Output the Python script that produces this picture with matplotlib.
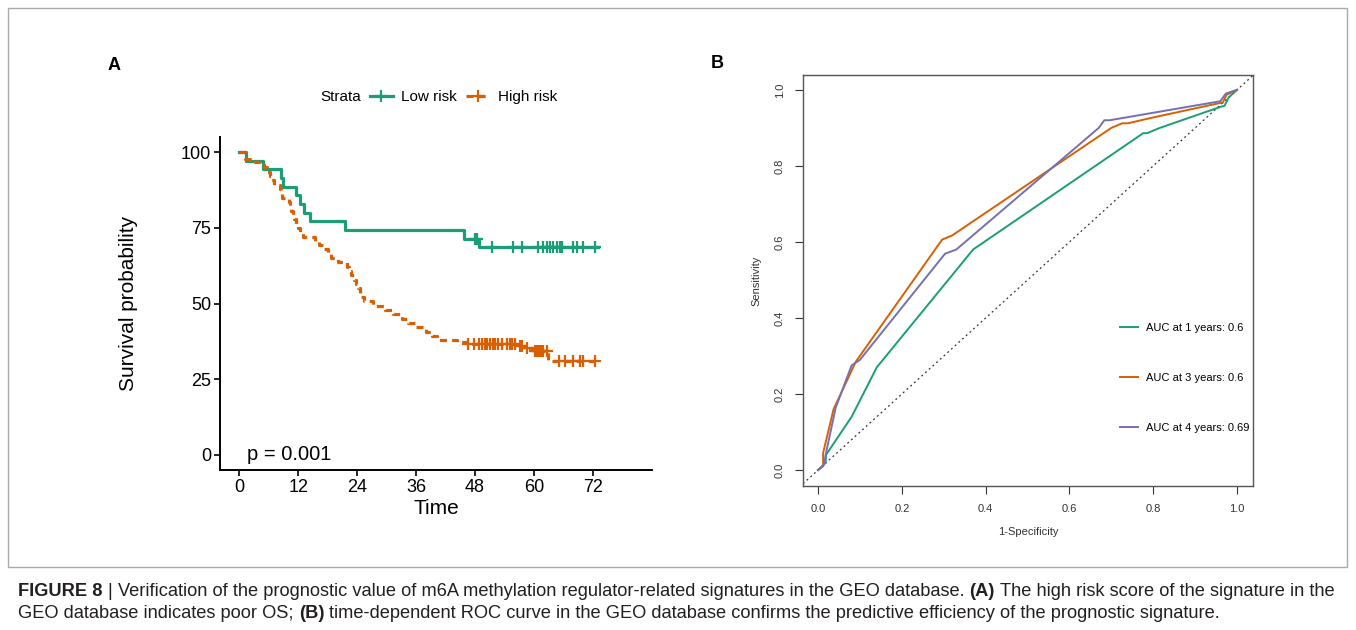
import numpy as np
import matplotlib
matplotlib.use("Agg")
import matplotlib.pyplot as plt
from matplotlib.lines import Line2D
from matplotlib.patches import Rectangle

plt.rcParams['font.family'] = ['Liberation Sans', 'DejaVu Sans']

GREEN = "#1b9e77"
ORANGE = "#d95f02"
PURPLE = "#7570b3"

# ---- panel A: Kaplan-Meier data (months, percent) ----
low_times = [0, 1.3, 4.9, 8.6, 8.9, 11.5, 12.3, 13.1, 14.5, 21.5, 45.7, 48.8]
low_surv = [100, 97.1, 94.3, 91.4, 88.6, 85.7, 82.9, 80.0, 77.1, 74.3, 71.3, 68.6]
low_end = 73.0
low_censor = [48.0, 48.3, 51.4, 55.8, 57.5, 60.9, 61.9, 62.6, 63.2, 63.9,
              64.6, 65.3, 65.6, 68.0, 68.7, 70.0, 72.4]

high_times = [0, 1.2, 3.3, 5.0, 5.7, 6.2, 6.5, 7.0, 8.3, 8.5, 8.8, 10.2,
              10.4, 10.6, 10.9, 11.2, 11.6, 12.0, 12.4, 12.9, 15.5, 16.2,
              17.0, 18.0, 18.7, 20.2, 21.9, 22.3, 22.8, 23.3, 23.8, 24.2,
              24.5, 24.8, 25.3, 27.3, 29.7, 31.4, 33.1, 34.3, 35.7, 38.0,
              39.2, 40.3, 44.3, 46.3, 56.8, 58.5, 60.0, 62.9]
high_surv = [100, 97.7, 96.6, 95.0, 93.6, 92.1, 90.7, 89.3, 87.9, 86.4,
             85.0, 83.6, 82.1, 80.7, 79.3, 77.9, 76.4, 75.0, 73.6, 72.1,
             70.7, 69.3, 67.9, 66.4, 65.0, 63.6, 62.1, 60.7, 59.3, 57.9,
             56.4, 55.0, 53.6, 52.1, 50.7, 49.3, 47.9, 46.4, 45.0, 43.6,
             42.1, 40.7, 39.3, 37.9, 37.3, 36.6, 36.0, 35.3, 34.4, 31.1]
high_end = 73.0
high_censor = [46.6, 47.7, 48.7, 49.4, 50.0, 50.5, 51.0, 51.6, 52.1, 52.7,
               53.4, 54.4, 55.1, 55.6, 56.1, 57.2, 57.5, 58.6, 60.2, 60.5,
               60.8, 61.0, 61.3, 61.6, 61.9, 62.6, 65.0, 66.3, 68.0, 69.4,
               70.0, 72.4]

km_xticks = [0, 12, 24, 36, 48, 60, 72]
km_yticks = [0, 25, 50, 75, 100]
p_text = "p = 0.001"
strata = ["Low risk", "High risk"]

# ---- panel B: time dependent ROC ----
roc1_fpr = [0, 0.01, 0.018, 0.019, 0.08, 0.14, 0.37, 0.776, 0.785, 0.816,
            0.96, 0.97, 0.98, 1.0]
roc1_tpr = [0, 0.01, 0.02, 0.04, 0.14, 0.27, 0.58, 0.886, 0.886, 0.90,
            0.955, 0.958, 0.98, 1.0]
roc3_fpr = [0, 0.012, 0.012, 0.037, 0.09, 0.296, 0.32, 0.70, 0.726, 0.74,
            0.79, 0.966, 0.975, 1.0]
roc3_tpr = [0, 0.01, 0.045, 0.16, 0.285, 0.606, 0.617, 0.90, 0.912, 0.912,
            0.925, 0.967, 0.987, 1.0]
roc4_fpr = [0, 0.015, 0.018, 0.042, 0.08, 0.10, 0.303, 0.33, 0.67, 0.683,
            0.696, 0.96, 0.973, 1.0]
roc4_tpr = [0, 0.015, 0.04, 0.164, 0.275, 0.29, 0.569, 0.58, 0.90, 0.92,
            0.92, 0.97, 0.99, 1.0]
roc_labels = ["AUC at 1 years: 0.6", "AUC at 3 years: 0.6",
              "AUC at 4 years: 0.69"]
roc_ticks = [0.0, 0.2, 0.4, 0.6, 0.8, 1.0]


def step_value(times, surv, t):
    i = np.searchsorted(times, t, side="right") - 1
    return np.array(surv)[i]


fig = plt.figure(figsize=(13.56, 6.30), dpi=100, facecolor="white")
W, H = 1356.0, 630.0

def fx(px):
    return px / W

def fy(py):
    return 1 - py / H

# outer frame
fig.patches.append(Rectangle((fx(8), fy(567)), fx(1347) - fx(8), fy(8) - fy(567),
                             transform=fig.transFigure, fill=False,
                             edgecolor="#aaaaaa", linewidth=1.0))

# ---------------- panel A ----------------
dash = (0, (2.2, 1.6))
axA = fig.add_axes([fx(220), fy(470), fx(652) - fx(220), fy(137) - fy(470)])
axA.step(list(low_times) + [low_end], list(low_surv) + [low_surv[-1]],
         where="post", color=GREEN, lw=2.3)
axA.step(list(high_times) + [high_end], list(high_surv) + [high_surv[-1]],
         where="post", color=ORANGE, lw=2.3, linestyle=dash)
axA.plot(low_censor, step_value(low_times, low_surv, low_censor), "+",
         color=GREEN, ms=9, mew=1.6, linestyle="none")
axA.plot(high_censor, step_value(high_times, high_surv, high_censor), "+",
         color=ORANGE, ms=9, mew=1.6, linestyle="none")

axA.set_xlim(-3.9, 84)
axA.set_ylim(-5, 105)
axA.set_xticks(km_xticks)
axA.set_yticks(km_yticks)
for s in ["top", "right"]:
    axA.spines[s].set_visible(False)
for s in ["left", "bottom"]:
    axA.spines[s].set_linewidth(1.4)
axA.tick_params(direction="out", length=4, width=1.2, labelsize=13,
                colors="black", pad=2.5)
axA.set_xlabel("Time", fontsize=15, labelpad=2)
axA.set_ylabel("Survival probability", fontsize=15)
axA.yaxis.set_label_coords(-0.19, 0.5)
axA.text(1.6, 0, p_text, fontsize=14.5, ha="left", va="center")

handles = [Line2D([], [], color=GREEN, lw=2.3, marker="+", ms=9, mew=1.6),
           Line2D([], [], color=ORANGE, lw=2.3, marker="+", ms=9, mew=1.6,
                  linestyle=dash)]
fig.text(fx(320), fy(97), "Strata", fontsize=11, ha="left", va="center")
fig.legend(handles, strata, loc="center left",
           bbox_to_anchor=(fx(370), fy(97)), ncol=2, frameon=False,
           fontsize=11, handlelength=1.5, handletextpad=0.55,
           columnspacing=0.6, borderpad=0, borderaxespad=0)
fig.text(fx(108), fy(65), "A", fontsize=13, fontweight="bold",
         ha="left", va="center")

# ---------------- panel B ----------------
axB = fig.add_axes([fx(803), fy(486), fx(1253) - fx(803), fy(75) - fy(486)])
axB.axline((0, 0), slope=1, color="#333333", lw=0.9, linestyle=(0, (1.5, 2.5)))
axB.plot(roc1_fpr, roc1_tpr, color=GREEN, lw=1.4, label=roc_labels[0])
axB.plot(roc3_fpr, roc3_tpr, color=ORANGE, lw=1.4, label=roc_labels[1])
axB.plot(roc4_fpr, roc4_tpr, color=PURPLE, lw=1.4, label=roc_labels[2])
axB.set_xlim(-0.036, 1.038)
axB.set_ylim(-0.042, 1.039)
axB.set_xticks(roc_ticks)
axB.set_yticks(roc_ticks)
axB.set_xticklabels(["%.1f" % t for t in roc_ticks])
axB.set_yticklabels(["%.1f" % t for t in roc_ticks], rotation=90, va="center")
for s in axB.spines.values():
    s.set_color("#555555")
    s.set_linewidth(1.0)
axB.tick_params(direction="out", length=6, width=0.8, labelsize=8,
                colors="#333333", pad=7)
axB.set_xlabel("1-Specificity", fontsize=8, color="#333333")
axB.xaxis.set_label_coords(0.5, -0.10)
axB.set_ylabel("Sensitivity", fontsize=8, color="#333333")
axB.yaxis.set_label_coords(-0.093, 0.5)
axB.legend(loc="center left", bbox_to_anchor=(0.704, 0.263), frameon=False,
           fontsize=8, handlelength=1.65, handletextpad=0.7,
           labelspacing=3.6, borderpad=0, borderaxespad=0)
fig.text(fx(711), fy(64), "B", fontsize=13, fontweight="bold",
         ha="left", va="center")

# ---------------- caption ----------------
line1 = [("FIGURE 8", "bold"), ("|", "normal"),
         ("Verification of the prognostic value of m6A methylation regulator-related signatures in the GEO database.", "normal"),
         ("(A)", "bold"), ("The high risk score of the signature in the", "normal")]
line2 = [("GEO database indicates poor OS;", "normal"), ("(B)", "bold"),
         ("time-dependent ROC curve in the GEO database confirms the predictive efficiency of the prognostic signature.", "normal")]

renderer = fig.canvas.get_renderer()


def put_line(pieces, x0, y, size, color="#231f20", dry=False):
    x = x0
    tmp = fig.text(0, 0, "a a", fontsize=size)
    w_sp = tmp.get_window_extent(renderer).width
    tmp.set_text("aa")
    w_sp -= tmp.get_window_extent(renderer).width
    tmp.remove()
    for i, (s, wt) in enumerate(pieces):
        t = fig.text(fx(x), fy(y), s, fontsize=size, fontweight=wt,
                     ha="left", va="center", color=color)
        x += t.get_window_extent(renderer).width
        if dry:
            t.remove()
        if i < len(pieces) - 1:
            x += w_sp
    return x - x0


cap_size = 11
w = put_line(line1, 18, 592, cap_size, dry=True)
cap_size = cap_size * (1330 - 18) / w
put_line(line1, 18, 592, cap_size)
put_line(line2, 18, 614, cap_size)

fig.savefig("out.png", dpi=100, facecolor="white")
